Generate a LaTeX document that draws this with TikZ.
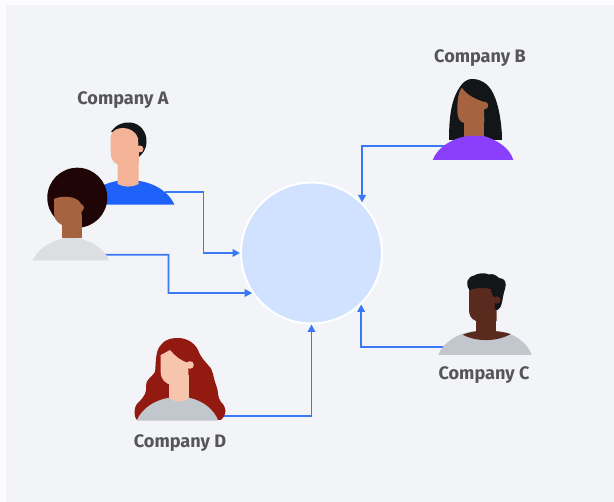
\documentclass[tikz,border=0pt]{standalone}
\usepackage{fontspec}
\setmainfont{Fira Sans}
\usepackage{xcolor}
\usetikzlibrary{arrows.meta}
\definecolor{panelBg}{HTML}{F2F4F8}
\definecolor{pageBg}{HTML}{FCFCFE}
\definecolor{hubFill}{HTML}{D0E2FF}
\definecolor{flowBlue}{HTML}{3B78F6}
\definecolor{labelGray}{HTML}{565656}
\definecolor{hairBlack}{HTML}{121619}
\definecolor{afroDark}{HTML}{1F0505}
\definecolor{hairRed}{HTML}{931A10}
\definecolor{skinLight}{HTML}{F4B296}
\definecolor{skinPale}{HTML}{F7C5AE}
\definecolor{skinMid}{HTML}{A56340}
\definecolor{skinDark}{HTML}{5A2A1F}
\definecolor{shirtBlue}{HTML}{1F62FA}
\definecolor{shirtPurple}{HTML}{8A3FFC}
\definecolor{shirtPale}{HTML}{DDDEE1}
\definecolor{shirtGray}{HTML}{C1C7CD}
\tikzset{
  company/.style={font=\fontsize{18.1}{21}\selectfont\bfseries, text=labelGray, inner sep=0pt},
  flow/.style={draw=flowBlue, line width=1.8pt, -{Triangle[length=7.5pt,width=7.5pt]}},
}

\begin{document}
\begin{tikzpicture}[x=1pt,y=-1pt]
        \useasboundingbox (0,0) rectangle (614,502);
        % Draw the page and the panel
        \fill[pageBg] (0,0) rectangle (614,502);
        \fill[panelBg] (6,5) rectangle (614,502);

        % Draw the hub
        \node[circle, fill=hubFill, draw=white, line width=2pt, minimum size=141pt, inner sep=0pt] (hub) at (311.5,253) {};

        % Company labels
        \node[company] (labelA) at (123,100) {Company A};
        \node[company] (labelB) at (480,58) {Company B};
        \node[company] (labelC) at (484,375) {Company C};
        \node[company] (labelD) at (180,443) {Company D};

        % Where the connectors leave the people
        \coordinate (shirtA) at (165,192);
        \coordinate (elbowA) at (203.5,253);
        \coordinate (shirtE) at (105,254.7);
        \coordinate (elbowE) at (168.5,293);
        \coordinate (shirtB) at (445,146.3);
        \coordinate (shirtC) at (445,346.7);
        \coordinate (shirtD) at (222,415.7);

        % Draw the connectors
        \draw[flow] (shirtA) -| (elbowA) -- (hub.180);
        \draw[flow] (shirtE) -| (elbowE) -- (hub.214);
        \draw[flow] (shirtB) -| (hub.45);
        \draw[flow] (shirtC) -| (hub.-46);
        \draw[flow] (shirtD) -| (hub.-90);

        % First person of company A
        \fill[shirtBlue] (82,204.6) .. controls (88,190) and (108,180) .. (128,180) .. controls (150,180) and (168,190) .. (174.3,204.6) -- cycle;
        \fill[hairBlack] (111,132) .. controls (116,124) and (124,122) .. (130,122.5) .. controls (140,123) and (147,132) .. (146.5,142) .. controls (146,150) and (143,153) .. (139,157) -- (135,135) -- cycle;
        \fill[skinLight] (117.7,160) -- (138.7,160) -- (138.7,184) .. controls (132,187.5) and (124,187.5) .. (117.7,184) -- cycle;
        \fill[skinLight] (110.7,136) .. controls (112,130) and (118,128) .. (123,128) .. controls (130,128) and (136,132) .. (138,138) -- (139,157) -- (138.7,163) .. controls (130,167) and (118,167) .. (113,161) .. controls (111,158) and (110.7,155) .. (110.7,152) -- cycle;
        \fill[skinLight] (140,149) circle[radius=3.5pt];

        % Second person of company A
        \fill[afroDark] (77.3,197.7) circle[radius=30pt];
        \fill[shirtPale] (32.7,260.4) .. controls (38,248) and (55,238) .. (71,237.7) .. controls (88,238) and (104,248) .. (109.3,260.4) -- cycle;
        \fill[skinMid] (62.3,215) -- (82.3,215) -- (82.3,238) -- (62.3,238) -- cycle;
        \fill[skinMid] (54,199) .. controls (60,196) and (70,196) .. (76,199) .. controls (80,201) and (81.5,204) .. (81.5,206) -- (82,225) .. controls (76,228) and (68,228) .. (62,225) .. controls (56,222) and (54,218) .. (54,212) -- cycle;
        \fill[skinMid] (80,207.7) circle[radius=4pt];

        % Person of company B
        \fill[hairBlack] (449,140) .. controls (449,115) and (452,100) .. (458,90) .. controls (463,81) and (468,79) .. (472,79) .. controls (480,79) and (488,83) .. (493,93) .. controls (499,105) and (502,125) .. (502,140) -- cycle;
        \fill[skinMid] (464.3,118) -- (484.3,118) -- (484.3,140) -- (464.3,140) -- cycle;
        \fill[skinMid] (461.7,87.7) .. controls (467,95) and (475,99) .. (484,102) -- (484.3,122) -- (464,123) .. controls (459,122) and (457.3,117) .. (457.3,110) .. controls (457.3,100) and (458.5,92) .. (461.7,87.7) -- cycle;
        \fill[skinMid] (484.5,105.5) circle[radius=3.8pt];
        \fill[shirtPurple] (432.7,160) .. controls (437,148) and (452,138) .. (468,136) -- (484,136) .. controls (497,140) and (510,148) .. (513.3,160) -- cycle;

        % Person of company C
        \fill[shirtGray] (438.3,354.8) .. controls (443,342) and (460,332) .. (476,331) -- (496,331) .. controls (513,332) and (527,342) .. (531.7,354.8) -- cycle;
        \fill[skinDark] (462.7,334.7) .. controls (468,332.5) and (474,331.5) .. (478,331) -- (494,331) .. controls (500,331.5) and (506,332.5) .. (510.7,334) .. controls (497,342) and (476,342) .. (462.7,334.7) -- cycle;
        \fill[skinDark] (476,315) -- (496,315) -- (496,335) -- (476,335) -- cycle;
        \fill[skinDark] (469,286) -- (496.7,286) -- (496.7,321) .. controls (490,324) and (482,324) .. (476,321) .. controls (471,319) and (469,315) .. (469,310) -- cycle;
        \fill[hairBlack] (469.5,290) .. controls (465,284) and (467,277) .. (474,275.5) .. controls (478,273) and (485,272.5) .. (489,274.5) .. controls (493,273) and (497,276) .. (499,278) .. controls (505,278) and (507,283) .. (505,289) .. controls (503,294) and (503,300) .. (501,306) .. controls (499,310) and (496,311) .. (495,309) -- (494.5,297) .. controls (492,296) and (491,292) .. (491,289) .. controls (484,287) and (476,288) .. (469.5,290) -- cycle;
        \fill[skinDark] (497,300) circle[radius=3.6pt];

        % Person of company D
        \fill[hairRed] (137,420) .. controls (133,416) and (134,405) .. (139,402) .. controls (144,397) and (147,392) .. (146,386) .. controls (145,380) and (153,376) .. (155,372) .. controls (156,365) and (155,350) .. (161,345) .. controls (166,338) and (174,338) .. (178,338) .. controls (186,338) and (194,342) .. (198,350) .. controls (201,358) and (205,361) .. (208,365) .. controls (214,370) and (213,378) .. (216,385) .. controls (219,392) and (217,397) .. (221,402) .. controls (227,408) and (227,414) .. (221,420) -- cycle;
        \fill[skinPale] (169.3,375) -- (189,375) -- (189,405) -- (169.3,405) -- cycle;
        \fill[skinPale] (160.7,355) .. controls (165,353) and (168,351) .. (170,350) .. controls (175,356) and (181,361) .. (188.3,363) -- (188.3,380) -- (172,385) .. controls (166,384) and (160.7,380) .. (160.7,372) -- cycle;
        \fill[skinPale] (190,365) circle[radius=3.8pt];
        \fill[shirtGray] (136.7,420.7) .. controls (142,408) and (155,400) .. (169.3,397.7) .. controls (172,403) and (186,403) .. (189,397.7) .. controls (204,401) and (214,410) .. (218.3,420.7) -- cycle;
\end{tikzpicture}
\end{document}
